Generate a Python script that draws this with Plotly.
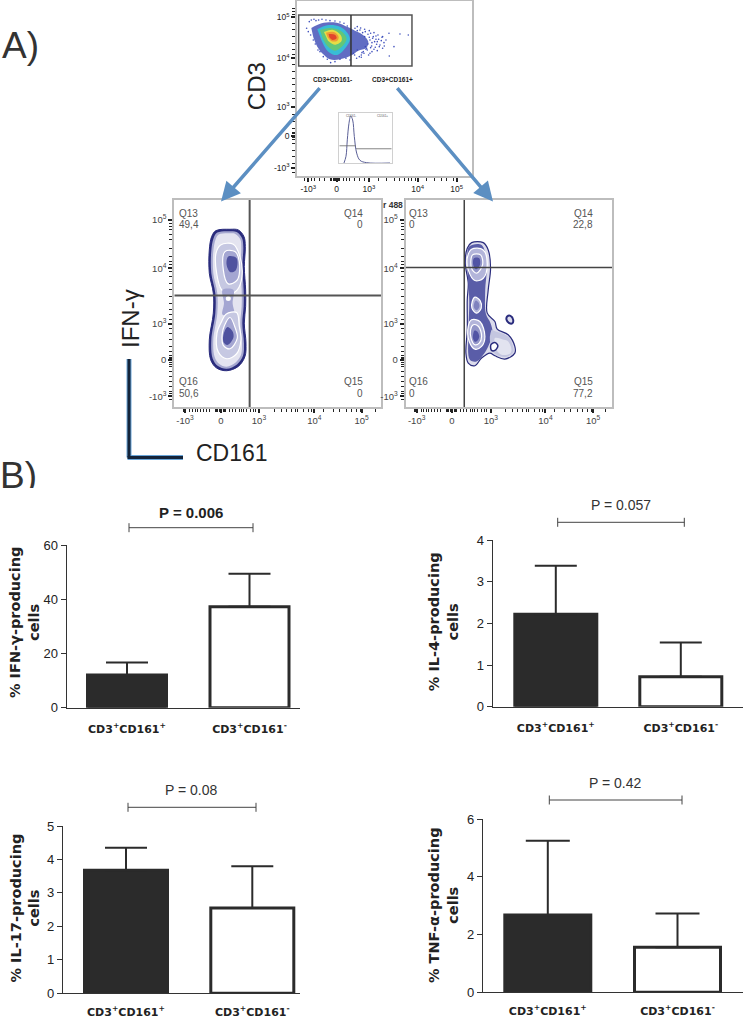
import plotly.graph_objects as go

W, H = 743, 1019
LBL = "Liberation Sans"
BOLDF = "DejaVu Sans"
INK = "#2b2b2b"

# ---------- bar chart data ----------
CATS = ["<b>CD3<sup>+</sup>CD161<sup>+</sup></b>", "<b>CD3<sup>+</sup>CD161<sup>-</sup></b>"]
IFN_MEAN = [12.05, 37.25]
IFN_ERR = [4.65, 12.15]
IL4_MEAN = [2.22, 0.72]
IL4_ERR = [1.16, 0.82]
IL17_MEAN = [3.68, 2.55]
IL17_ERR = [0.67, 1.25]
TNF_MEAN = [2.68, 1.56]
TNF_ERR = [2.57, 1.17]
IFN_TICKS = [0, 20, 40, 60]
IL4_TICKS = [0, 1, 2, 3, 4]
IL17_TICKS = [0, 1, 2, 3, 4, 5]
TNF_TICKS = [0, 2, 4, 6]

# ---------- flow panels: values are channel readings ----------
BI_TEXT = ["-10<sup>3</sup>", "0", "10<sup>3</sup>", "10<sup>4</sup>", "10<sup>5</sup>"]
TOP_X = [205, 290, 387, 533, 650]
TOP_Y = [503, 408, 320, 175, 52]
LEFT_X = [285, 393, 507, 673, 815]
RIGHT_X = [110, 216, 333, 497, 640]
LOW_Y = [620, 510, 403, 235, 90]
TOP_RUG_X = [195,215,225,240,255,272,276,280,284,288,292,296,300,310,320,330,345,360,375,415,440,465,480,495,505,515,528,560,585,605,620,640]
TOP_RUG_Y = [25,35,45,70,90,110,130,150,165,195,215,235,255,275,295,345,365,385,398,402,406,412,414,418,430,450,470,490,518]
LEFT_RUG_X = [280,283,300,308,316,324,332,340,350,360,376,380,384,388,392,396,400,404,408,418,428,438,448,455,462,470,482,490,497,555,575,590,605,618,622,640,655,665,670,700,730,750,770,785,800,812,855]
RIGHT_RUG_X = [103,106,123,131,139,147,155,163,173,183,199,203,207,211,215,219,223,227,231,241,251,261,271,278,285,293,305,313,320,378,398,413,428,441,445,463,478,488,493,523,553,573,593,608,623,635,678]
LOW_RUG_Y = [100,110,120,135,150,175,200,215,225,245,260,280,300,320,340,360,375,390,415,430,450,470,485,497,503,507,513,517,523,530,545,560,575,590,605,612,630]

DENS_BLUE_X = [214,245,290,325,345,365,385,378,355,335,300,270,250,232,220]
DENS_BLUE_Y = [84,70,68,82,92,102,125,145,152,166,178,178,163,140,112]
DENS_CYAN_X = [232,262,300,322,330,318,292,265,245]
DENS_CYAN_Y = [88,76,80,98,118,142,165,155,122]
DENS_GREEN_X = [240,270,302,320,308,285,262,248]
DENS_GREEN_Y = [90,84,92,115,138,152,138,115]
DENS_YEL_X = [252,280,302,305,285,264]
DENS_YEL_Y = [96,90,105,122,134,122]
DENS_ORG_X = [258,282,296,292,275,263]
DENS_ORG_Y = [98,96,110,122,124,112]
DENS_RED_X = [266,285,290,278,268]
DENS_RED_Y = [102,104,115,120,112]
DOTS_X = [208,214,222,200,228,236,246,258,270,285,300,312,322,345,352,360,368,376,384,392,400,408,416,424,432,438,447,462,480,505,352,366,380,396,412,428,344,358,372,386,420,448,300,285,272,262,250,240,330,318,205,212,220,226,234,352,362,374,388,402,414,426,340,350,364,378,392,406,418,390,396,404,410,395,402,412,388,384,376,370,364,398,382,408,374,428,433,390]
DOTS_Y = [65,60,58,85,62,60,58,60,62,63,66,70,78,85,92,90,98,95,103,100,110,108,118,122,128,120,100,140,102,105,150,158,145,155,152,145,165,170,160,165,135,168,178,185,188,178,170,155,180,175,95,105,120,132,150,80,84,88,92,98,105,112,160,175,172,148,143,142,140,120,128,125,133,138,148,125,112,132,140,155,165,115,150,118,110,110,138,160]

HIST_X = [312,318,322,327,332,338,343,350,360,380,450]
HIST_Y = [490,470,420,370,348,360,410,460,482,489,490]

L_OUT_X = [378,420,445,462,466,463,467,467,463,468,465,445,410,380,362,358,370,370,358,358,365,378]
L_OUT_Y = [122,118,120,140,170,230,300,350,400,460,500,530,543,535,510,450,370,310,250,180,140,122]
L_MID_X = [382,420,440,456,460,457,461,461,457,462,459,441,410,384,368,364,376,376,364,364,371,382]
L_MID_Y = [128,124,126,144,172,230,300,350,400,460,498,524,537,529,506,450,370,310,250,182,144,128]
L_PALE_X = [386,420,436,451,454,451,455,455,451,456,453,437,410,388,374,370,382,382,370,370,377,386]
L_PALE_Y = [134,130,132,148,174,230,300,350,400,460,496,518,531,523,502,450,370,310,250,184,148,134]
L_UP1_X = [392,430,450,456,442,420,395,380,378,392]
L_UP1_Y = [165,163,200,260,300,312,300,250,190,165]
L_UP2_X = [405,435,448,442,415,400,405]
L_UP2_Y = [185,185,215,270,282,240,185]
L_UP3_X = [415,440,438,422,410,415]
L_UP3_Y = [200,205,240,247,225,200]
L_LO1_X = [408,440,448,453,440,410,385,381,395,408]
L_LO1_Y = [373,368,410,450,492,507,487,430,395,373]
L_LO2_X = [420,436,442,420,400,399,420]
L_LO2_Y = [383,415,445,477,467,420,383]
L_LO3_X = [412,428,430,412,400,402,412]
L_LO3_Y = [412,425,445,466,455,430,412]
L_NECK_X = [398,430,428,432,398,402,398]
L_NECK_Y = [300,300,340,375,375,340,300]
L_SPOT_X = [415]
L_SPOT_Y = [326]

R_OUT_X = [275,310,325,332,325,322,345,352,385,405,405,375,345,330,305,285,265,258,262,262,265,256,262,275]
R_OUT_Y = [158,158,180,235,300,370,395,418,435,470,490,508,498,490,505,528,520,490,420,330,280,220,175,158]
R_PALE_X = [348,385,400,400,375,345,335,330,335]
R_PALE_Y = [425,441,472,488,502,492,480,440,420]
R_BODY_X = [268,305,320,316,318,332,338,325,310,290,270,266,268,262,268]
R_BODY_Y = [170,165,230,300,372,400,430,470,495,515,510,420,330,220,170]
R_UP1_X = [275,310,322,310,285,265,262,275]
R_UP1_Y = [178,180,225,265,272,240,205,178]
R_UP2_X = [278,302,308,290,275,278]
R_UP2_Y = [195,195,225,250,235,195]
R_UP3_X = [282,298,300,288,280,282]
R_UP3_Y = [205,205,225,238,225,205]
R_MID1_X = [285,301,304,290,276,277,285]
R_MID1_Y = [322,333,355,370,355,335,322]
R_MID2_X = [288,297,298,290,282,283,288]
R_MID2_Y = [332,340,352,361,352,340,332]
R_LOW1_X = [275,300,315,305,285,268,265,275]
R_LOW1_Y = [390,395,440,470,478,455,410,390]
R_LOW2_X = [280,296,305,298,285,274,272,280]
R_LOW2_Y = [405,410,440,460,465,448,420,405]
R_LOW3_X = [284,292,298,293,285,279,280,284]
R_LOW3_Y = [422,425,440,452,456,445,432,422]
R_HOLE_X = [333,345,354,345,335,333]
R_HOLE_Y = [465,458,468,482,482,465]
R_RING_X = [382,392,400,397,387,380,382]
R_RING_Y = [380,378,390,401,399,390,380]
R_SOFT_X = [345,372,385,395,390,365,350,345]
R_SOFT_Y = [445,450,455,480,492,495,480,445]

fig = go.Figure()
layout = {}
annos = []
shapes = []


def dom(L, T, R, B):
    return [L / W, R / W], [1 - B / H, 1 - T / H]


def add_axes(n, box, xr, yr, xkw=None, ykw=None):
    dx, dy = dom(*box)
    s = "" if n == 1 else str(n)
    layout["xaxis" + s] = dict(domain=dx, range=xr, anchor="y" + s, fixedrange=True, showgrid=False, zeroline=False, automargin=False, **(xkw or {}))
    layout["yaxis" + s] = dict(domain=dy, range=yr, anchor="x" + s, fixedrange=True, showgrid=False, zeroline=False, automargin=False, **(ykw or {}))
    return "x" + s, "y" + s


def poly(ax, xs, ys, fill, line=None, lw=0, smooth=True):
    fig.add_trace(go.Scatter(
        x=xs, y=ys, xaxis=ax[0], yaxis=ax[1], mode="lines", fill="toself", fillcolor=fill,
        line=dict(color=line or "rgba(0,0,0,0)", width=lw, shape="spline" if smooth else "linear", smoothing=1),
        hoverinfo="skip", showlegend=False))


def flow_axis(vals, rug, size, color="#444"):
    return dict(
        tickmode="array", tickvals=vals, ticktext=BI_TEXT, ticks="outside", ticklen=4, tickwidth=2,
        tickcolor="#222", tickfont=dict(family=LBL, size=size, color=color),
        showline=True, mirror=True, linecolor="#bdbdbd", linewidth=2,
        minor=dict(tickmode="array", tickvals=rug, ticks="outside", ticklen=3, tickwidth=1, tickcolor="#222"))


def gate(ax, x0, y0, x1, y1, color="#555", w=2):
    shapes.append(dict(type="line", xref=ax[0], yref=ax[1], x0=x0, y0=y0, x1=x1, y1=y1, line=dict(color=color, width=w)))


# ---------- top dot plot ----------
a = add_axes(1, (297.3, 1.3, 472.3, 176), [172, 697], [528, 4],
             flow_axis(TOP_X, TOP_RUG_X, 8.5, "#222"), flow_axis(TOP_Y, TOP_RUG_Y, 8.5, "#222"))
fig.add_trace(go.Scatter(x=DOTS_X, y=DOTS_Y, xaxis=a[0], yaxis=a[1], mode="markers",
                         marker=dict(size=1.6, color="#3f50bc"), hoverinfo="skip", showlegend=False))
poly(a, DENS_BLUE_X, DENS_BLUE_Y, "rgba(58,72,180,0.8)")
poly(a, DENS_CYAN_X, DENS_CYAN_Y, "#38bcd6")
poly(a, DENS_GREEN_X, DENS_GREEN_Y, "#62c67a")
poly(a, DENS_YEL_X, DENS_YEL_Y, "#e6dd45")
poly(a, DENS_ORG_X, DENS_ORG_Y, "#ef9a36")
poly(a, DENS_RED_X, DENS_RED_Y, "#e2452c")
shapes.append(dict(type="rect", xref=a[0], yref=a[1], x0=176, y0=45, x1=516, y1=198, line=dict(color="#555", width=1.5)))
gate(a, 333, 45, 333, 198, "#333", 1.5)

# ---------- inset histogram ----------
ins = add_axes(2, (339.3, 112.7, 391.7, 163), [298, 455], [490, 338],
               dict(showline=True, mirror=True, linecolor="#d0d0d0", linewidth=1, showticklabels=False),
               dict(showline=True, mirror=True, linecolor="#d0d0d0", linewidth=1, showticklabels=False))
fig.add_trace(go.Scatter(x=HIST_X, y=HIST_Y, xaxis=ins[0], yaxis=ins[1], mode="lines",
                         line=dict(color="#5a5f96", width=1, shape="spline"), hoverinfo="skip", showlegend=False))
gate(ins, 298, 438, 348, 438, "#666", 0.8)
gate(ins, 348, 447, 455, 447, "#666", 0.8)

# ---------- lower left contour ----------
a2 = add_axes(3, (174.3, 200, 381, 407), [253, 873], [652, 30],
              flow_axis(LEFT_X, LEFT_RUG_X, 9.5), flow_axis(LOW_Y, LOW_RUG_Y, 9.5))
poly(a2, L_OUT_X, L_OUT_Y, "#2a2c7d", "#2a2c7d", 1)
poly(a2, L_MID_X, L_MID_Y, "#a6a8d0")
poly(a2, L_PALE_X, L_PALE_Y, "#e4e4f0")
poly(a2, L_UP1_X, L_UP1_Y, "#c6c8e2", "white", 1.2)
poly(a2, L_UP2_X, L_UP2_Y, "#a4a6d2", "white", 1.2)
poly(a2, L_UP3_X, L_UP3_Y, "#4f529f")
poly(a2, L_NECK_X, L_NECK_Y, "#a4a6d2")
poly(a2, L_LO1_X, L_LO1_Y, "#c6c8e2", "white", 1.2)
poly(a2, L_LO2_X, L_LO2_Y, "#a4a6d2", "white", 1.2)
poly(a2, L_LO3_X, L_LO3_Y, "#4f529f")
fig.add_trace(go.Scatter(x=L_SPOT_X, y=L_SPOT_Y, xaxis=a2[0], yaxis=a2[1], mode="markers",
                         marker=dict(size=5, color="white"), hoverinfo="skip", showlegend=False))
gate(a2, 479, 30, 479, 652)
gate(a2, 253, 317, 873, 317)

# ---------- lower right contour ----------
a3 = add_axes(4, (405.7, 200, 612, 407), [77, 697], [652, 30],
              flow_axis(RIGHT_X, RIGHT_RUG_X, 9.5), flow_axis(LOW_Y, LOW_RUG_Y, 9.5))
poly(a3, R_OUT_X, R_OUT_Y, "#dcdcec", "#2a2c7d", 1.2)
poly(a3, R_BODY_X, R_BODY_Y, "#5a5da8")
poly(a3, R_PALE_X, R_PALE_Y, "#c4c6e0")
poly(a3, R_SOFT_X, R_SOFT_Y, "#e2e3f0")
poly(a3, R_UP1_X, R_UP1_Y, "#b3b5da", "white", 1.2)
poly(a3, R_UP2_X, R_UP2_Y, "#9295c8", "white", 1.2)
poly(a3, R_UP3_X, R_UP3_Y, "#5154a4")
poly(a3, R_MID1_X, R_MID1_Y, "#b3b5da", "white", 1.2)
poly(a3, R_MID2_X, R_MID2_Y, "#7f82be")
poly(a3, R_LOW1_X, R_LOW1_Y, "#b3b5da", "white", 1.2)
poly(a3, R_LOW2_X, R_LOW2_Y, "#9295c8", "white", 1.2)
poly(a3, R_LOW3_X, R_LOW3_Y, "#5154a4")
poly(a3, R_HOLE_X, R_HOLE_Y, "white", "#2a2c7d", 1.5)
poly(a3, R_RING_X, R_RING_Y, "#dcdcec", "#2a2c7d", 2)
gate(a3, 253, 30, 253, 652, "#444", 1.5)
gate(a3, 77, 233, 697, 233, "#444", 1.5)


# ---------- bar charts ----------
def bars(n, L, R, T, B, c0, c1, bw, means, errs, ticks, top, capw, lab_gap=11):
    span = c1 - c0
    ax = add_axes(n, (L, T, R, B), [(L - c0) / span, (R - c0) / span], [0, top],
                  dict(tickmode="array", tickvals=[0, 1], ticktext=CATS, ticks="outside", ticklen=lab_gap,
                       tickcolor="rgba(255,255,255,0)",
                       tickfont=dict(family=BOLDF, size=11, color="#222"), showline=True, linecolor="#333", linewidth=1.2),
                  dict(tickmode="array", tickvals=ticks, ticks="outside", ticklen=5, tickwidth=1, tickcolor="#333",
                       tickfont=dict(family=LBL, size=13, color="#222"), showline=True, linecolor="#333", linewidth=1.2))
    fig.add_trace(go.Bar(
        x=[0, 1], y=means, width=bw / span, xaxis=ax[0], yaxis=ax[1], showlegend=False, hoverinfo="skip",
        marker=dict(color=[INK, "white"], line=dict(color=INK, width=3)),
        error_y=dict(type="data", symmetric=False, array=errs, arrayminus=[0, 0], color=INK, thickness=2, width=capw)))


bars(5, 66.7, 300, 545, 707.7, 127, 249.5, 79, IFN_MEAN, IFN_ERR, IFN_TICKS, 60, 21)
bars(6, 492.7, 743, 540, 706.7, 555.8, 680.8, 82, IL4_MEAN, IL4_ERR, IL4_TICKS, 4, 21)
bars(7, 63, 300, 826, 993.3, 126, 252.3, 83, IL17_MEAN, IL17_ERR, IL17_TICKS, 5, 21, 8)
bars(8, 483, 743, 819, 992.3, 547.8, 677.5, 86, TNF_MEAN, TNF_ERR, TNF_TICKS, 6, 22, 8)

# ---------- page-level decoration axes ----------
pg = add_axes(9, (0, 0, W, H), [0, W], [H, 0], dict(visible=False), dict(visible=False))
fig.add_trace(go.Scatter(x=[0], y=[0], xaxis=pg[0], yaxis=pg[1], mode="markers", marker=dict(opacity=0), hoverinfo="skip", showlegend=False))


def text(x, y, s, size, family=LBL, color="#222", angle=0, anchor="center", bold=False):
    annos.append(dict(xref=pg[0], yref=pg[1], x=x, y=y, text=f"<b>{s}</b>" if bold else s, showarrow=False,
                      textangle=angle, xanchor=anchor, yanchor="middle", align="center",
                      font=dict(family=family, size=size, color=color)))


def bracket(x0, x1, y):
    for p in [(x0, y, x1, y), (x0, y - 4.5, x0, y + 4.5), (x1, y - 4.5, x1, y + 4.5)]:
        shapes.append(dict(type="line", xref=pg[0], yref=pg[1], x0=p[0], y0=p[1], x1=p[2], y1=p[3], line=dict(color="#444", width=1)))


def arrow(x0, y0, x1, y1):
    annos.append(dict(xref=pg[0], yref=pg[1], axref=pg[0], ayref=pg[1], x=x1, y=y1, ax=x0, ay=y0, text="", showarrow=True,
                      arrowhead=2, arrowsize=1.1, arrowwidth=3.5, arrowcolor="#5c8fc2"))


bracket(129, 253, 527.7)
bracket(557.7, 684.3, 522.3)
bracket(128, 256, 807.3)
bracket(549.3, 682, 800)
text(191, 512, "P = 0.006", 15, bold=True)
text(620.7, 505, "P = 0.057", 14, color="#333")
text(191.7, 790, "P = 0.08", 14, color="#333")
text(615.7, 782.7, "P = 0.42", 14, color="#333")

text(24, 623, "% IFN-γ-producing<br>cells", 14.5, BOLDF, angle=-90, bold=True)
text(443.5, 621.7, "% IL-4-producing<br>cells", 14.5, BOLDF, angle=-90, bold=True)
text(24.5, 908, "% IL-17-producing<br>cells", 14.5, BOLDF, angle=-90, bold=True)
text(443, 905, "% TNF-α-producing<br>cells", 14.5, BOLDF, angle=-90, bold=True)

text(0, 45, "A)", 37, color="#333", anchor="left")
text(256.5, 86.7, "CD3", 24, angle=-90)
text(130, 319, "IFN-γ", 24, angle=-90)
text(232, 453, "CD161", 23)
text(332, 79, "CD3+CD161-", 6.5, bold=True)
text(392, 79, "CD3+CD161+", 6.5, bold=True)
text(393, 205, "r 488", 8.5, bold=True, color="#333")
text(351, 116, "CD161-", 3, color="#555")
text(382, 116, "CD161+", 3, color="#555")

for ax, lx, rx, vals in [(a2, 260, 824, ["49,4", "0", "50,6", "0"]), (a3, 82, 646, ["0", "22,8", "0", "77,2"])]:
    for name, val, xx, anc, y1, y2 in [("Q13", vals[0], lx, "left", 70, 105), ("Q14", vals[1], rx, "right", 70, 105),
                                       ("Q16", vals[2], lx, "left", 575, 610), ("Q15", vals[3], rx, "right", 575, 610)]:
        for s, yy in [(name, y1), (val, y2)]:
            annos.append(dict(xref=ax[0], yref=ax[1], x=xx, y=yy, text=s, showarrow=False, xanchor=anc, yanchor="middle",
                              font=dict(family=LBL, size=10, color="#555")))

# L-shaped axis marker
for col, wd in [("#6aa5d8", 5), ("#14243a", 3)]:
    shapes.append(dict(type="line", xref=pg[0], yref=pg[1], x0=129, y0=359, x1=129, y1=457.5, line=dict(color=col, width=wd)))
    shapes.append(dict(type="line", xref=pg[0], yref=pg[1], x0=127.5, y0=457.5, x1=183, y1=457.5, line=dict(color=col, width=wd)))

arrow(321, 86.7, 221, 201.5)
arrow(396, 86.7, 493, 201.5)

# clipped "B)" label
cl = add_axes(10, (0, 440, 60, 488), [0, 60], [488, 440], dict(visible=False), dict(visible=False))
fig.add_trace(go.Scatter(x=[0], y=[497], xaxis=cl[0], yaxis=cl[1], mode="text", text=["B)"], textposition="top right",
                         textfont=dict(family=LBL, size=37, color="#333"), cliponaxis=True, hoverinfo="skip", showlegend=False))

fig.update_layout(template="none", width=W, height=H, margin=dict(l=0, r=0, t=0, b=0, pad=0), autosize=False,
                  paper_bgcolor="white", plot_bgcolor="rgba(0,0,0,0)", showlegend=False,
                  annotations=annos, shapes=shapes, **layout)
fig.write_html("out.html", config=dict(displayModeBar=False),
               post_script="document.body.style.margin='0';")
